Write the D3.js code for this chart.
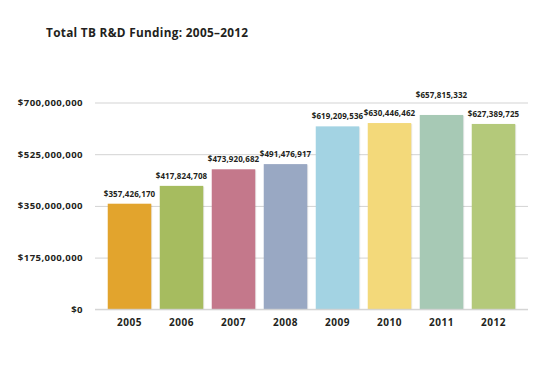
<!DOCTYPE html>
<html><head><meta charset="utf-8">
<script src="https://cdn.jsdelivr.net/npm/d3@7"></script>
<style>
html,body{margin:0;padding:0;background:#fff;}
svg text{font-family:"Open Sans",sans-serif;font-weight:700;fill:#231F20;}
</style></head>
<body>
<svg id="chart" width="546" height="380"></svg>
<script>
const title = "Total TB R&D Funding: 2005\u20132012";
const years = ["2005","2006","2007","2008","2009","2010","2011","2012"];
const funding = [357426170, 417824708, 473920682, 491476917, 619209536, 630446462, 657815332, 627389725];
const colors = ["#E2A42D","#A6BC5F","#C4788B","#99A8C3","#A3D3E3","#F3D97A","#A7C9B5","#B4C97A"];
const tickValues = [0, 175000000, 350000000, 525000000, 700000000];

const svg = d3.select("#chart");
const mLeft = 95, mRight = 528, mTop = 102.5, mBottom = 309.3;

const x = d3.scaleBand().domain(years).range([mLeft, mRight]).paddingInner(0.163).paddingOuter(0.245);
const y = d3.scaleLinear().domain([0, 700000000]).range([mBottom, mTop]);
const fmt = d3.format("$,");

svg.append("text").attr("x", 46).attr("y", 37).attr("font-size", 11.8).attr("letter-spacing", 0.3).text(title);

const yAxis = d3.axisLeft(y).tickValues(tickValues).tickSize(-(mRight-mLeft)).tickPadding(12).tickFormat(fmt);
const gy = svg.append("g").attr("transform", `translate(${mLeft},0)`).call(yAxis);
gy.select(".domain").remove();
gy.selectAll(".tick line").attr("stroke", "#D3D3D3").attr("stroke-width", 1);
gy.selectAll(".tick text").attr("font-size", 9.6).attr("font-family", "Open Sans").attr("font-weight", 700).attr("fill", "#231F20").attr("letter-spacing", 0.4);

const gb = svg.append("g");
gb.selectAll("rect.shadow").data(years).join("rect").attr("class","shadow")
  .attr("x", d => x(d) + 1).attr("y", (d,i) => y(funding[i]) + 1)
  .attr("width", x.bandwidth()).attr("height", (d,i) => mBottom - y(funding[i]) - 1)
  .attr("fill", "#000").attr("opacity", 0.08);
gb.selectAll("rect.bar").data(years).join("rect").attr("class","bar")
  .attr("x", d => x(d)).attr("y", (d,i) => y(funding[i]))
  .attr("width", x.bandwidth()).attr("height", (d,i) => mBottom - y(funding[i]))
  .attr("fill", (d,i) => colors[i]);

svg.append("line").attr("x1", mLeft).attr("x2", mRight).attr("y1", mBottom).attr("y2", mBottom).attr("stroke", "#D3D3D3");

const topGrid = y(700000000);
svg.append("g").selectAll("text").data(years).join("text")
  .attr("x", d => x(d) + x.bandwidth()/2)
  .attr("y", (d,i) => {
    let yy = y(funding[i]) - 7;
    if (yy - 8 < topGrid + 1 && yy > topGrid - 3) yy = topGrid - 5;
    return yy;
  })
  .attr("text-anchor", "middle").attr("font-size", 8).attr("letter-spacing", 0.1)
  .text((d,i) => fmt(funding[i]));

const xAxis = d3.axisBottom(x).tickSize(0).tickPadding(10);
const gx = svg.append("g").attr("transform", `translate(0,${mBottom})`).call(xAxis);
gx.select(".domain").remove();
gx.selectAll(".tick text").attr("font-size", 10).attr("font-family", "Open Sans").attr("font-weight", 700).attr("fill", "#231F20").attr("letter-spacing", 0.5);
</script>
</body></html>
